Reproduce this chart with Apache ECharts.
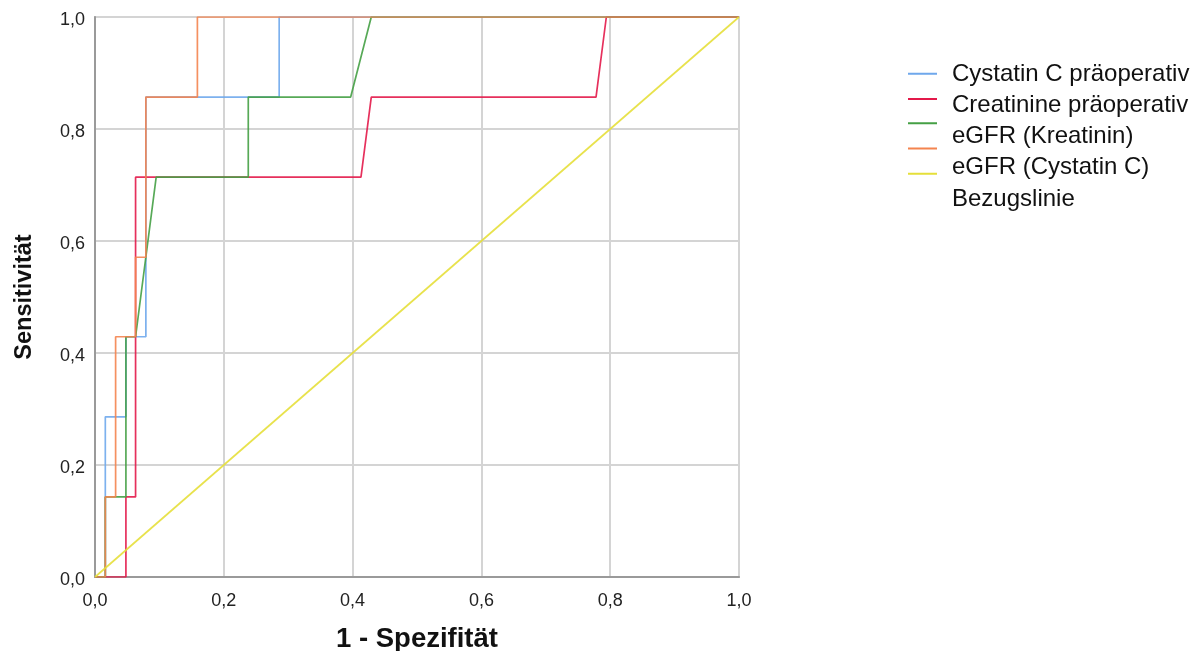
<!DOCTYPE html>
<html>
<head>
<meta charset="utf-8">
<script src="https://cdn.jsdelivr.net/npm/echarts@6/dist/echarts.min.js"></script>
<style>
html,body{margin:0;padding:0;background:#fff;}
#chart{width:1198px;height:651px;}
</style>
</head>
<body>
<div id="chart"></div>
<script>
// ---- data ----
const seriesNames = ['Cystatin C präoperativ', 'Creatinine präoperativ', 'eGFR (Kreatinin)', 'eGFR (Cystatin C)', 'Bezugslinie'];
const tickValues = [0, 0.2, 0.4, 0.6, 0.8, 1.0];

const cystatinX = [0, 0.016, 0.016, 0.048, 0.048, 0.079, 0.079, 0.286, 0.286, 1];
const cystatinY = [0, 0, 0.286, 0.286, 0.429, 0.429, 0.857, 0.857, 1, 1];

const creatX = [0, 0.048, 0.048, 0.063, 0.063, 0.413, 0.429, 0.778, 0.794, 1];
const creatY = [0, 0, 0.143, 0.143, 0.714, 0.714, 0.857, 0.857, 1, 1];

const egfrKreaX = [0, 0.016, 0.016, 0.048, 0.048, 0.063, 0.095, 0.238, 0.238, 0.397, 0.429, 1];
const egfrKreaY = [0, 0, 0.143, 0.143, 0.429, 0.429, 0.714, 0.714, 0.857, 0.857, 1, 1];

const egfrCysX = [0, 0.016, 0.016, 0.032, 0.032, 0.063, 0.063, 0.079, 0.079, 0.159, 0.159, 1];
const egfrCysY = [0, 0, 0.143, 0.143, 0.429, 0.429, 0.571, 0.571, 0.857, 0.857, 1, 1];

const refX = [0, 1];
const refY = [0, 1];

// ---- styles ----
const colors = ['#6fa8ec', '#e3194a', '#45a045', '#f4844f', '#e5df3a'];
const legendIconOffsets = [-0.3, -6.3, -13.3, -19.3, -25.3]; // symbol offset vs. label centre (SPSS quirk)
const ICON_W = 29, ICON_H = 60;

function zip(xs, ys) { return xs.map((x, i) => [x, ys[i]]); }
function iconPath(d) {
  const y = ICON_H / 2 + d - 1;
  return 'path://M0,0L0.01,0L0.01,0.01Z M' + ICON_W + ',' + ICON_H + 'L' + (ICON_W - 0.01) + ',' + ICON_H +
    'L' + (ICON_W - 0.01) + ',' + (ICON_H - 0.01) + 'Z M0,' + y + 'L' + ICON_W + ',' + y + 'L' + ICON_W + ',' + (y + 2) + 'L0,' + (y + 2) + 'Z';
}
const fmt = v => v.toFixed(1).replace('.', ',');

const xs = [cystatinX, creatX, egfrKreaX, egfrCysX, refX];
const ys = [cystatinY, creatY, egfrKreaY, egfrCysY, refY];

const chart = echarts.init(document.getElementById('chart'), null, { renderer: 'canvas' });
const fontFamily = '"Liberation Sans", Arial, sans-serif';

chart.setOption({
  animation: false,
  backgroundColor: '#fff',
  textStyle: { fontFamily: fontFamily },
  grid: { left: 95, right: 459, top: 17, bottom: 74, show: true, borderColor: '#d4d4d4', borderWidth: 2,
          containLabel: false, outerBoundsMode: 'none' },
  legend: {
    orient: 'vertical',
    left: 908,
    top: 44,
    padding: 0,
    itemWidth: ICON_W,
    itemHeight: ICON_H,
    itemGap: -28.75,
    selectedMode: false,
    itemStyle: { borderWidth: 0 },
    textStyle: { fontSize: 24, color: '#111', fontFamily: fontFamily, padding: [0, 0, 0, 10] },
    data: seriesNames.map((n, i) => ({ name: n, icon: iconPath(legendIconOffsets[i]) }))
  },
  xAxis: {
    type: 'value', min: 0, max: 1, interval: 0.2,
    name: '1 - Spezifität', nameLocation: 'middle', nameGap: 48,
    nameTextStyle: { fontSize: 27.5, fontWeight: 'bold', color: '#111', fontFamily: fontFamily },
    axisLine: { show: true, onZero: false, lineStyle: { color: '#9a9a9a', width: 2 } },
    axisTick: { show: false },
    splitLine: { show: true, lineStyle: { color: '#d4d4d4', width: 2 } },
    axisLabel: { fontSize: 18, color: '#222', margin: 15, formatter: fmt, customValues: tickValues }
  },
  yAxis: {
    type: 'value', min: 0, max: 1, interval: 0.2,
    name: 'Sensitivität', nameLocation: 'middle', nameGap: 58,
    nameTextStyle: { fontSize: 23.5, fontWeight: 'bold', color: '#111', fontFamily: fontFamily },
    axisLine: { show: true, onZero: false, lineStyle: { color: '#9a9a9a', width: 2 } },
    axisTick: { show: false },
    splitLine: { show: true, lineStyle: { color: '#d4d4d4', width: 2 } },
    axisLabel: { fontSize: 18, color: '#222', margin: 10, formatter: fmt, verticalAlign: 'top', lineHeight: 6 }
  },
  series: seriesNames.map((n, i) => ({
    name: n,
    type: 'line',
    data: zip(xs[i], ys[i]),
    showSymbol: false,
    symbol: 'none',
    color: colors[i],
    lineStyle: { color: colors[i], width: 1.7, opacity: 0.9 },
    z: 2 + i
  }))
});
</script>
</body>
</html>
